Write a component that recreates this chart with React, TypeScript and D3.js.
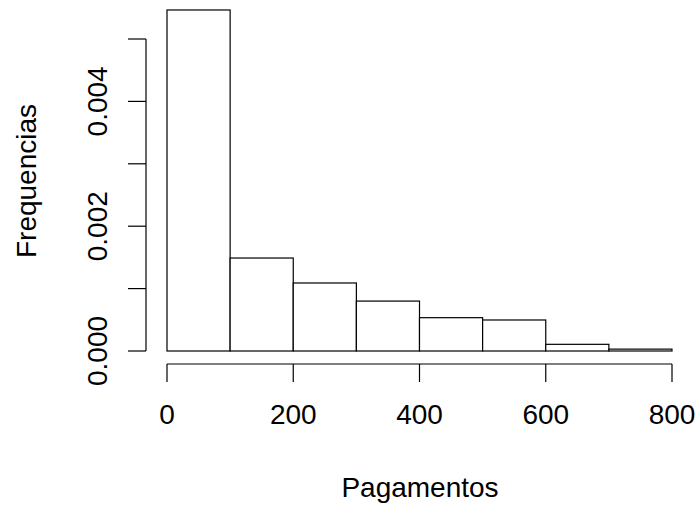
import React from "react";
import * as d3 from "d3";

// histogram bins (Pagamentos) and densities
const binStarts = [0, 100, 200, 300, 400, 500, 600, 700];
const binWidth = 100;
const densities = [0.005465, 0.00149, 0.00109, 0.0008, 0.000534, 0.000497, 0.000107, 0.00003];
const xTicks = [0, 200, 400, 600, 800];
const yTicks = [0, 0.001, 0.002, 0.003, 0.004, 0.005];
const yLabelTicks = [0, 0.002, 0.004];

const W = 699;
const H = 505;
const font = "Liberation Sans, Arial, Helvetica, sans-serif";
const fs = 28;

const App = () => {
  const x = d3.scaleLinear().domain([0, 800]).range([167, 672]);
  const y = d3.scaleLinear().domain([0, 0.005]).range([351, 39]);

  const axisY = 364;
  const axisX = 146;
  const tick = 18;

  return (
    <svg
      width={W}
      height={H}
      style={{ position: "absolute", left: 0, top: 0, background: "white" }}
      fontFamily={font}
    >
      {/* bars */}
      <g stroke="black" strokeWidth={1.2} fill="white">
        {binStarts.map((b, i) => (
          <rect
            key={b}
            x={x(b)}
            y={y(densities[i])}
            width={x(b + binWidth) - x(b)}
            height={y(0) - y(densities[i])}
          />
        ))}
      </g>

      {/* x axis */}
      <g stroke="black" strokeWidth={1.2} fill="none">
        <line x1={x(0)} x2={x(800)} y1={axisY} y2={axisY} />
        {xTicks.map((t) => (
          <line key={t} x1={x(t)} x2={x(t)} y1={axisY} y2={axisY + tick} />
        ))}
      </g>
      <g fontSize={fs} textAnchor="middle" fill="black">
        {xTicks.map((t) => (
          <text key={t} x={x(t)} y={axisY + 60}>
            {t}
          </text>
        ))}
      </g>

      {/* y axis */}
      <g stroke="black" strokeWidth={1.2} fill="none">
        <line x1={axisX} x2={axisX} y1={y(0)} y2={y(0.005)} />
        {yTicks.map((t) => (
          <line key={t} x1={axisX - tick} x2={axisX} y1={y(t)} y2={y(t)} />
        ))}
      </g>
      <g fontSize={fs} textAnchor="middle" fill="black">
        {yLabelTicks.map((t) => (
          <text
            key={t}
            transform={`translate(${axisX - 39},${y(t)}) rotate(-90)`}
          >
            {d3.format(".3f")(t)}
          </text>
        ))}
      </g>

      {/* titles */}
      <text x={420} y={497} fontSize={fs} textAnchor="middle">
        Pagamentos
      </text>
      <text
        transform={`translate(36,181) rotate(-90)`}
        fontSize={fs}
        textAnchor="middle"
      >
        Frequencias
      </text>
    </svg>
  );
};

export default App;
